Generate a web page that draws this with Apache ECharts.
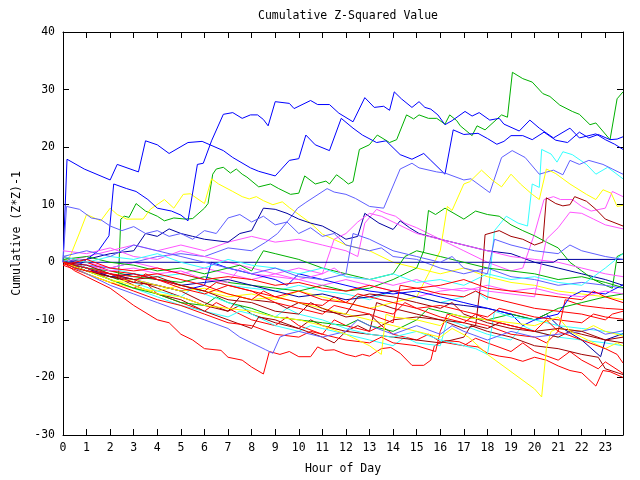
<!DOCTYPE html>
<html>
<head>
<meta charset="utf-8">
<script src="https://cdn.jsdelivr.net/npm/echarts@6/dist/echarts.min.js"></script>
<style>html,body{margin:0;padding:0;background:#fff}#c{width:640px;height:480px}</style>
</head>
<body>
<div id="c"></div>
<script>
var TITLE = "Cumulative Z-Squared Value";
var X_NAME = "Hour of Day";
var Y_NAME = "Cumulative (Z*Z)-1";
var X_MIN = 0, X_MAX = 23.75, Y_MIN = -30, Y_MAX = 40;

var COLORS = {red:'#ff0000', green:'#00b000', blue:'#0000ff', magenta:'#ff55ff', cyan:'#33ffff',
  darkred:'#a00000', yellow:'#ffff00', slate:'#5f5fff', navy:'#0000a0'};

// [hour, value] pairs
var lineA = [[0,0],[0.17,17.9],[0.9,16.2],[2,14.3],[2.3,17],[3.2,15.7],[3.5,21.1],[4,20.4],[4.5,18.9],[5.3,20.8],[5.9,21],[6.8,19.4],[7.2,18.2],[7.95,16.4],[8.3,15.8],[9,15],[9.6,17.7],[10,18],[10.3,22.1],[10.7,20.4],[11.3,19.4],[11.8,25],[12.3,23.3],[12.7,22.1],[13.3,20.8],[13.7,21.1],[14.3,18.7],[14.8,17.9],[15.3,18.9],[15.6,17.7],[16.2,15.3],[16.55,23],[17,22.2],[17.6,22.4],[18,21.5],[18.4,20.5],[18.7,21],[19,22],[19.5,22],[19.9,21.3],[20.4,22.6],[20.9,21.2],[21.4,20.8],[21.9,22.6],[22.3,21.6],[22.7,22.2],[23.2,21.3],[23.5,21.4],[23.75,21.8]];
var lineB = [[0,0],[0.5,-1],[1,0.5],[1.5,2],[1.95,4.6],[2.15,13.6],[2.7,12.8],[3.1,12.3],[3.6,10.9],[4,9.4],[4.6,8.9],[5,8.2],[5.3,7.2],[5.7,17],[5.95,17.2],[6.3,21.1],[6.8,25.7],[7.2,26],[7.6,25],[7.95,25.6],[8.25,25.6],[8.5,24.8],[8.7,23.7],[9,27.9],[9.6,27.6],[9.8,26.7],[10.5,28.1],[10.8,27.4],[11.3,27.4],[11.7,25.9],[12.3,24.4],[12.8,28.6],[13.2,26.9],[13.6,27.1],[13.85,26.4],[14.05,29.6],[14.35,28.4],[14.8,26.9],[15.1,27.9],[15.35,26.9],[15.6,26.6],[15.9,25.6],[16.2,23.9],[16.5,24.6],[17.05,26.2],[17.35,25.4],[17.65,26],[18.1,24.7],[18.5,25],[18.7,24],[19.35,22.8],[19.8,24.7],[20.2,23.3],[20.8,21.6],[21.5,23.3],[21.9,21.6],[22.6,22.3],[23,21.3],[23.4,20.5],[23.75,19.6]];
var lineG1 = [[0,0],[0.5,-0.8],[1,-1.5],[1.5,-2],[2,-2.5],[2.35,-3],[2.45,7.5],[2.6,8],[2.8,7.8],[3.1,10.2],[3.5,8.9],[4,8],[4.3,7.2],[4.7,7.7],[5.2,7.5],[5.5,7.6],[6,9.4],[6.15,10.2],[6.35,15.3],[6.5,16.2],[6.8,16.5],[7.1,15.5],[7.35,16.2],[7.6,15.3],[7.8,14.8],[8.3,13.1],[8.8,13.6],[9.15,12.8],[9.65,11.8],[10,12],[10.25,15],[10.7,13.6],[11.15,14.1],[11.3,13.6],[11.6,15.2],[11.9,14.3],[12.1,13.6],[12.3,14],[12.57,19.6],[12.99,20.4],[13.33,22.1],[13.85,20.8],[14.15,21.3],[14.57,25.6],[14.87,24.9],[15.1,25.6],[15.5,25],[15.85,25],[16.2,24],[16.4,25.6],[16.7,24.6],[16.85,23.7],[17.35,22],[17.56,23.7],[17.9,23],[18.6,25.6],[18.85,25.2],[19.06,33],[19.5,31.9],[19.9,31.3],[20.35,29.3],[20.65,28.8],[21.07,27.3],[21.6,26.2],[21.9,25.7],[22.35,23.9],[22.6,24.2],[23.2,21.3],[23.5,28.4],[23.75,29.6]];
var lineS1 = [[0,1],[0.5,0],[1,-0.5],[2,-1],[3,0],[4,1],[5,1.5],[6,1],[7,2.5],[8,2],[8.6,3.5],[9.1,5],[9.6,7.5],[9.95,9.4],[10.3,10.4],[11.2,12.8],[11.5,12.2],[12,11.8],[12.4,11.1],[13,9.7],[13.6,9.4],[14.3,16.2],[14.8,17.2],[15.1,16.4],[15.85,15.7],[16.2,15.5],[17,14.3],[17.3,14.5],[18.1,12.1],[18.6,18.2],[19.05,19.4],[19.6,18.2],[20.2,15.3],[20.8,16],[21.2,15.2],[21.5,17.7],[21.9,17],[22.3,17.7],[22.9,17],[23.3,16.2],[23.75,15.3]];
var lineS2 = [[0,0],[0.15,9.7],[0.7,9.2],[1.2,7.7],[1.6,7.4],[2,6.3],[2.5,5.5],[3,6.2],[3.5,5],[4,5.5],[4.5,4.5],[5,5],[5.5,4],[6,5.5],[6.5,5],[7,7.7],[7.5,8.3],[8,7],[8.5,8],[9,6.5],[9.5,7],[10,5],[10.5,6],[11,4.5],[11.5,5],[12,3],[13,2],[13.5,2.5],[14,1],[15,0.5],[16,-1],[17,-2],[18,-1],[19,-2.5],[20,-3],[21,-4],[22,-3.5],[23,-4],[23.75,-4.5]];
var lineY1 = [[0,0],[0.3,1],[0.7,5.1],[1,8.3],[1.6,7.2],[2,9.4],[2.3,8.3],[2.7,7.5],[3.4,7.5],[3.7,9.2],[4.3,10.9],[4.7,9.4],[5.1,11.8],[5.4,11.9],[6,10.2],[6.3,14.5],[6.6,13.6],[7.2,12.3],[7.6,11.4],[7.9,11],[8.2,11.4],[8.5,10.7],[8.9,10],[9.3,10.5],[9.6,9.5],[10.5,6.8],[11,4.9],[12,3],[13,2],[14,0],[15,-1],[16,-2],[17,-1],[18,-2.5],[19,-3.5],[20,-4],[21,-5],[22,-5.5],[23,-6],[23.75,-6.5]];
var lineY2 = [[0,0],[1,-2],[2,-3.5],[3,-4.5],[4,-5],[5,-4],[6,-5],[7,-6],[8,-5.5],[9,-6.5],[10,-5],[11,-6],[12,-7],[13,-8],[14,-7],[15,-6],[15.5,-2],[16,2],[16.3,9.7],[16.5,9],[17,13.6],[17.25,14],[17.75,16],[18.2,14.3],[18.6,13.1],[19,15.3],[19.4,13.6],[19.9,11.8],[20.2,10.9],[20.5,16.2],[20.9,15.4],[21.5,13.6],[22.2,11.8],[22.6,10.9],[22.9,12.6],[23.25,12],[23.5,9.7],[23.75,9.9]];
var lineY3 = [[0,0],[1,-2],[2,-3.5],[3,-3],[4,-4],[5,-5],[6,-4.5],[7,-5.5],[8,-6.5],[9,-6],[10,-7],[11,-8],[12,-9],[13,-10],[14,-11],[15,-12],[16,-13],[16.5,-11.5],[17.2,-13],[18,-16],[19,-19],[20,-22],[20.3,-23.4],[20.5,-15],[20.7,-12],[21,-11.5],[22,-12],[22.5,-11],[23,-12],[23.75,-12.8]];
var lineY4 = [[0,0],[1,-1.5],[2,-3],[3,-4],[4,-5.5],[5,-6],[6,-7.5],[7,-8],[8,-8.5],[9,-9.5],[10,-10],[11,-11],[12,-12.5],[12.5,-13.5],[13,-14.5],[13.5,-16],[13.7,-9],[14,-9.5],[15,-10],[16,-11],[16.5,-9],[17,-9.5],[18,-10],[19,-10.5],[20,-11],[21,-9.5],[21.5,-12],[22,-13],[23,-15],[23.5,-14],[23.75,-14.5]];
var lineC1 = [[0,0],[1,-0.5],[2,-1],[3,-2],[4,-2.5],[5,-2],[6,-3],[7,-4],[8,-4.5],[9,-5],[10,-4],[11,-5],[12,-5.5],[13,-6.5],[14,-5],[15,-6],[16,-7],[17,-6],[17.5,-5],[18,-6.5],[18.3,5.5],[18.8,8],[19.3,6.8],[19.7,6.3],[19.9,13.6],[20.2,13],[20.3,19.6],[20.7,18.8],[20.95,17.4],[21.2,19.2],[21.6,18.7],[22.2,17],[22.6,15.3],[23.1,16.5],[23.75,14.5]];
var lineC2 = [[0,0],[1,-1.5],[2,-3],[3,-4.5],[4,-6],[5,-7.5],[6,-8.5],[7,-9.5],[7.5,-8.5],[8,-9],[9,-11],[10,-12],[10.5,-11],[11,-11.5],[12,-12.5],[13,-13.5],[14,-14.5],[14.5,-13],[15,-14],[16,-14.5],[16.3,-10],[17,-11],[18,-12.5],[19,-13.5],[19.5,-11],[20,-12],[21,-13],[22,-13.5],[23,-14],[23.75,-14.5]];
var lineC3 = [[0,0.5],[1,-1],[2,-2],[3,-3.5],[4,-5],[5,-6],[5.5,-4.5],[6,-5.5],[7,-7],[8,-8.5],[9,-9.5],[9.5,-8],[10,-9],[11,-10],[12,-11.5],[13,-12.5],[14,-13],[15,-12],[16,-13.5],[17,-14.5],[17.5,-15],[18,-16],[18.3,-8.5],[19,-9.5],[20,-10],[21,-11],[22,-11.5],[23,-12],[23.75,-12.5]];
var lineC4 = [[0,1],[1,0],[2,1],[3,0.5],[4,1.5],[5,0],[6,-1],[7,0.5],[8,-0.5],[9,-1],[10,-2],[11,-1],[12,-2.5],[13,-3],[14,-2],[15,-3.5],[16,-3],[17,-4],[18,-2],[19,-3],[20,-2.5],[21,-3.5],[22,-4],[23,-1],[23.75,1.5]];
var lineM1 = [[0,0],[1,1],[2,2],[3,3],[4,2],[5,3],[6,2],[7,3.5],[8,4.5],[9,3.5],[10,4],[11,3],[12,2],[12.5,1],[12.8,6.8],[13.3,9.2],[13.7,8.5],[14.1,8],[14.5,6.8],[15,6],[16,4],[17,2],[18,0],[19,-1.5],[19.5,-1],[20,5],[20.4,10.9],[20.8,11.4],[21.1,10.9],[21.6,10.9],[22,9.7],[22.4,8.9],[23,9.4],[23.3,12.3],[23.75,11.4]];
var lineM2 = [[0,1],[1,0],[2,-1],[3,0],[4,-1],[5,-2],[6,-1],[7,-2],[8,-3],[9,-2],[10,-3],[11,-4],[12,-3],[13,-4],[14,-5],[15,-6],[16,-5],[17,-4.5],[18,-5],[19,-5.5],[20,-6],[20.5,4],[21,6],[21.5,8.7],[22,8.5],[22.5,7.5],[23,6.5],[23.75,5.8]];
var lineM3 = [[0,2],[1,1.5],[2,2.5],[3,1],[4,0.5],[5,2],[6,1],[7,0],[8,-1],[9,-2],[10,-1],[11,-2],[11.5,4],[12,5],[12.5,7],[13,8.5],[13.5,8],[14,7],[15,5],[16,4],[17,3],[18,2],[19,1],[20,0.5],[21,0],[22,-1],[23,-2],[23.75,-2.5]];
var lineM4 = [[0,0],[1,-0.5],[2,-1.5],[3,-1],[4,-2],[5,-1.5],[6,-3],[7,-3.5],[7.5,-1],[8,-2],[9,-2.5],[10,-3],[11,-2],[11.5,-1],[12,-2.5],[13,-3],[14,-4],[15,-3],[16,-4.5],[17,-5],[18,-4],[19,-5],[20,-4.5],[21,-5.5],[22,-6],[23,-5],[23.75,-5.5]];
var lineR1 = [[0,0],[0.5,-1.5],[1,-2.5],[2,-4.5],[3,-7.5],[4,-10],[4.5,-10.5],[5,-12.5],[5.5,-13.5],[6,-15],[6.7,-15.3],[7,-16.5],[7.6,-17],[8,-18.2],[8.5,-19.4],[8.75,-15.5],[9.2,-16],[9.6,-15.5],[10,-16.4],[10.5,-16.4],[10.8,-14.7],[11.1,-15.3],[11.5,-15.2],[12,-16],[12.4,-16.4],[12.7,-16],[13,-16.3],[13.5,-15],[13.9,-14.8],[14.3,-15.8],[14.8,-17.9],[15.3,-17.9],[15.6,-17],[15.75,-14.5],[16.2,-13.6],[16.8,-13.8],[17.2,-14.5],[17.6,-14.7],[18,-15.8],[18.5,-16.3],[19,-16.6],[19.5,-17.2],[20,-16.5],[20.5,-17],[21,-18],[21.5,-18.8],[22,-19.2],[22.6,-21.5],[22.9,-18.8],[23.2,-19],[23.75,-20]];
var lineR2 = [[0,0.5],[1,-1],[2,-3],[3,-4.5],[3.5,-3.5],[4,-5.5],[5,-7],[6,-8.5],[6.5,-7],[7,-8],[8,-10],[9,-11],[9.5,-9.5],[10,-11],[11,-12.5],[11.5,-10],[12,-11],[13,-12],[13.5,-11],[14,-12.5],[15,-13.5],[15.5,-12.5],[16,-13.8],[17,-14.5],[17.5,-13.2],[18,-14],[19,-15.5],[19.5,-14],[20,-15.5],[21,-17],[21.5,-15.5],[22,-17],[22.7,-18.5],[23,-17.3],[23.75,-19.3]];
var lineR3 = [[0,-0.5],[1,-2],[2,-3.5],[3,-5],[4,-6.5],[5,-7.5],[6,-9],[7,-10.5],[8,-11],[9,-12.5],[10,-13],[10.5,-12],[11,-12.5],[12,-13.5],[13,-14],[13.5,-13],[14,-14],[15,-14.5],[15.8,-15.5],[16,-12],[16.3,-9],[17,-10],[18,-11],[19,-12.5],[20,-13],[20.5,-14],[21,-12],[21.3,-6.5],[22,-7.5],[23,-8],[23.75,-8.2]];
var lineR4 = [[0,1],[1,0],[2,-1.5],[3,-2],[4,-3],[5,-4],[6,-5],[6.5,-3.5],[7,-4],[8,-5],[9,-6],[10,-5],[11,-6.5],[12,-7],[12.5,-5.5],[13,-6],[14,-7],[15,-8],[16,-7.5],[17,-8.5],[18,-9.5],[18.5,-8],[19,-8.5],[20,-9.5],[21,-10],[22,-10.5],[22.5,-9],[23,-9.5],[23.75,-9.9]];
var lineR5 = [[0,0],[0.5,-1],[1,-1.5],[2,-2],[3,-3.5],[3.5,-2],[4,-3],[5,-4.5],[6,-5.5],[7,-4],[8,-5],[9,-7],[10,-8],[11,-9],[11.5,-7.5],[12,-8],[13,-9],[14,-10.5],[14.3,-4],[15,-4.5],[16,-5.5],[17,-6],[17.5,-5],[18,-6],[19,-7],[20,-8],[21,-8.5],[22,-9],[23,-10],[23.3,-9],[23.75,-8.5]];
var lineR6 = [[0,0],[1,-1],[2,-2],[3,-2.5],[4,-2],[5,-3],[6,-4],[7,-5.5],[8,-6.5],[8.5,-5],[9,-6],[10,-7],[11,-7.5],[11.5,-6],[12,-7],[13,-8],[14,-9],[14.5,-7],[15,-8],[16,-9.5],[17,-10.5],[17.5,-9],[18,-10],[19,-11],[20,-12],[20.5,-10],[21,-12],[22,-13.5],[23,-15],[23.5,-16],[23.75,-17.5]];
var lineR7 = [[0,-0.5],[1,0.5],[2,-1],[3,-1.5],[4,-1],[5,-2],[6,-3],[7,-2.5],[8,-3],[9,-4],[10,-3.5],[11,-4.5],[12,-5],[13,-4],[14,-5],[15,-4.5],[16,-4],[17,-3],[18,-4.5],[19,-5],[20,-5.5],[21,-6],[22,-6.5],[22.5,-5],[23,-6],[23.75,-7]];
var lineDR1 = [[0,0],[1,-1],[2,-2.5],[3,-3],[4,-4.5],[5,-6],[6,-7.5],[7,-8.5],[7.5,-7.5],[8,-9],[9,-10.5],[10,-11.5],[10.5,-10],[11,-11],[12,-12],[12.5,-11],[13,-12],[13.3,-7],[14,-8],[15,-9],[16,-10],[17,-11.5],[17.5,-11],[17.8,-0.7],[17.9,4.8],[18.5,5.5],[19,4.5],[19.5,4],[20,3],[20.35,3.5],[20.5,11.2],[20.9,10.2],[21.2,9.8],[21.5,10],[21.7,11.4],[22.2,10.6],[22.6,9.2],[23,7.5],[23.75,6.3]];
var lineDR2 = [[0,0.5],[1,-1],[2,-2],[3,-4],[4,-5.5],[5,-6.5],[6,-8.5],[7,-10],[8,-11.5],[8.3,-9.5],[9,-10],[10,-11.5],[11,-13],[11.5,-14],[12,-12],[13,-12.5],[14,-13],[15,-13.5],[16,-14],[17,-13],[17.3,-11],[18,-12],[19,-13],[20,-14.5],[21,-15],[22,-16],[22.7,-16.5],[23,-18.5],[23.75,-19.5]];
var lineDR3 = [[0,0],[1,-1.5],[2,-2.5],[3,-3.5],[4,-4],[5,-5],[6,-7],[7,-8.5],[7.5,-6],[8,-6.5],[9,-7],[9.5,-8],[10,-7],[11,-8.5],[12,-9],[12.5,-6],[13,-5.5],[14,-6],[15,-7],[16,-8],[16.5,-7],[17,-9],[18,-10.5],[19,-11.5],[20,-12],[21,-13],[21.5,-12],[22,-12.5],[23,-13.5],[23.75,-14]];
var lineDR4 = [[0,0],[1,-0.5],[2,-2],[3,-3],[4,-2.5],[5,-4],[6,-5],[7,-6.5],[8,-7],[9,-8.5],[10,-9],[10.5,-7],[11,-8],[12,-9.5],[13,-9],[13.5,-11],[14,-10],[15,-9.5],[16,-10],[17,-10.5],[18,-11.5],[18.5,-10.5],[19,-11],[20,-12],[21,-11.5],[22,-12],[23,-13.5],[23.75,-13]];
var lineS3 = [[0,0],[1,-2],[2,-4],[3,-5.5],[4,-7],[5,-8.5],[6,-10],[7,-11.5],[7.5,-13],[8,-14],[8.6,-15.2],[8.9,-15.8],[9.2,-13],[9.5,-12.5],[10,-12],[11,-13],[12,-12],[12.5,-10],[13,-11],[14,-12.5],[15,-11],[16,-12.5],[16.5,-11],[17,-12],[18,-13.5],[19,-12],[20,-13],[21,-12.5],[22,-12],[22.5,-11.5],[23,-12.5],[23.75,-11.9]];
var lineS4 = [[0,1],[1,2],[2,1],[3,3],[4,2],[5,1],[6,0],[7,-1],[8,-2],[9,-1],[10,-2.5],[11,-3],[12,-2],[12.3,5],[13,4],[14,2],[15,1],[16,0],[16.5,1],[17,-1],[18,-2],[18.3,4],[19,3],[20,2],[21,1.5],[21.5,3],[22,2],[23,1],[23.75,0.5]];
var lineBL1 = [[0,0],[1,-1.5],[2,-2],[3,-3],[4,-4],[5,-5],[6,-4],[6.3,0],[7,-1],[8,-2],[9,-3],[9.5,-4],[10,-2],[11,-3],[12,-4],[13,-5],[14,-5.5],[15,-5],[16,-6],[17,-7],[18,-8],[19,-9],[19.5,-11],[20,-10],[21,-9],[21.5,-6],[22,-5],[23,-5.5],[23.75,-3.9]];
var lineN1 = [[0,0],[1,0.5],[2,1.5],[3,2],[3.5,5],[4,4.5],[4.5,5.8],[5,5],[5.5,4.5],[6,4],[7,3.5],[7.5,5],[8,5.5],[8.5,9.4],[9,9.2],[9.5,8.5],[10,7.5],[10.5,6.8],[11,6.3],[11.6,5],[12,4],[12.5,4.5],[12.8,8.5],[13.4,6.8],[14,5.7],[14.3,7.2],[14.7,6],[15.1,5],[16,4],[17,3],[18,2],[19,1.5],[20,0],[21,-1],[22,-2],[23,-3],[23.75,-4]];
var lineN2 = [[0,0],[1,-1],[2,-2.5],[3,-2],[4,-3],[5,-4],[6,-3.5],[7,-3],[8,-4],[9,-5],[10,-6],[11,-5.5],[12,-6.5],[13,-6],[14,-5],[15,-6],[16,-7],[17,-7.5],[18,-8],[19,-9],[20,-10],[20.5,-9],[21,-11],[22,-13.5],[22.8,-16.4],[23,-13.5],[23.75,-12.4]];
var lineNZ = [[0,0],[20.8,0],[21,0.5],[23.75,0.5]];
var lineG2 = [[0,0],[1,-1],[2,-1.5],[3,-2.5],[4,-3],[5,-3.5],[6,-2.5],[7,-3.5],[8,-4],[9,-4.5],[10,-5],[11,-4],[12,-5],[13,-4.5],[14,-3],[15,-1],[15.3,2],[15.5,9],[15.8,8.3],[16.2,9.4],[17,7.5],[17.5,8.9],[18,8.3],[18.5,8],[19,6.5],[19.5,5.5],[20,4.6],[20.5,3.5],[21,2.5],[21.5,0],[22,-1.5],[22.5,-3],[23,-4],[23.3,-4.5],[23.5,1],[23.75,1.5]];
var lineG3 = [[0,0],[1,-1.5],[2,-3],[3,-4.5],[4,-5.5],[5,-7],[6,-7.5],[6.5,-6],[7,-7],[8,-8],[9,-9.5],[10,-10],[11,-10.5],[12,-11],[12.5,-10],[13,-11],[14,-12],[15,-10],[15.5,-8],[16,-8.5],[17,-9.5],[18,-10],[19,-9],[20,-10],[21,-8],[22,-7],[23,-6],[23.75,-5.5]];
var lineG4 = [[0,0.5],[1,1],[2,0],[3,-0.5],[4,-1.5],[5,-1],[6,-2],[7,-1],[7.5,-0.5],[8,-1.5],[8.5,2],[9,1.5],[10,0.5],[11,-1],[12,-2],[13,-3],[14,-2],[14.5,1],[15,2],[16,1],[17,0],[18,-1],[19,-1.5],[20,-2],[21,-3],[22,-2.5],[23,-3.5],[23.75,-4.4]];

var SERIES = [
  ['red', lineR1], ['green', lineG1], ['blue', lineA], ['magenta', lineM1], ['cyan', lineC1],
  ['darkred', lineDR1], ['yellow', lineY1], ['slate', lineS1], ['navy', lineN1],
  ['red', lineR2], ['green', lineG2], ['blue', lineB], ['magenta', lineM2], ['cyan', lineC2],
  ['darkred', lineDR2], ['yellow', lineY2], ['slate', lineS2], ['navy', lineN2],
  ['red', lineR3], ['green', lineG3], ['blue', lineBL1], ['magenta', lineM3], ['cyan', lineC3],
  ['darkred', lineDR3], ['yellow', lineY3], ['slate', lineS3], ['navy', lineNZ],
  ['red', lineR4], ['green', lineG4], ['magenta', lineM4], ['cyan', lineC4],
  ['darkred', lineDR4], ['yellow', lineY4], ['slate', lineS4],
  ['red', lineR5], ['red', lineR6], ['red', lineR7]
];

var FONT = 'DejaVu Sans Mono';
var chart = echarts.init(document.getElementById('c'), null, {renderer: 'canvas'});
var txt = {fontFamily: FONT, fontSize: 11.5, color: '#000'};
function xAx(pos, labels) {
  return {type: 'value', position: pos, min: X_MIN, max: X_MAX, interval: 1,
    name: labels ? X_NAME : '', nameLocation: 'middle', nameGap: 28, nameTextStyle: txt,
    axisLine: {show: true, onZero: false, lineStyle: {color: '#000', width: 1}},
    axisTick: {show: true, inside: true, length: 6, lineStyle: {color: '#000'}},
    axisLabel: {show: labels, margin: 7, showMaxLabel: false, fontFamily: FONT, fontSize: 11.5, color: '#000'},
    splitLine: {show: false}};
}
function yAx(pos, labels) {
  return {type: 'value', position: pos, min: Y_MIN, max: Y_MAX, interval: 10,
    name: labels ? Y_NAME : '', nameLocation: 'middle', nameGap: 34, nameRotate: 90, nameTextStyle: txt,
    axisLine: {show: true, onZero: false, lineStyle: {color: '#000', width: 1}},
    axisTick: {show: true, inside: true, length: 6, lineStyle: {color: '#000'}},
    axisLabel: {show: labels, margin: 8, fontFamily: FONT, fontSize: 11.5, color: '#000'},
    splitLine: {show: false}};
}
chart.setOption({
  animation: false,
  backgroundColor: '#fff',
  title: {text: TITLE, left: 343, textAlign: 'center', top: 5,
    textStyle: {fontFamily: FONT, fontSize: 11.5, fontWeight: 'normal', color: '#000'}},
  grid: {left: 63, right: 17, top: 32, bottom: 37, containLabel: false},
  xAxis: [xAx('bottom', true), xAx('top', false)],
  yAxis: [yAx('left', true), yAx('right', false)],
  series: SERIES.map(function (s) {
    return {type: 'line', data: s[1], showSymbol: false, symbol: 'none', silent: true,
      lineStyle: {color: COLORS[s[0]], width: 1}, itemStyle: {color: COLORS[s[0]]}};
  })
});
</script>
</body>
</html>
